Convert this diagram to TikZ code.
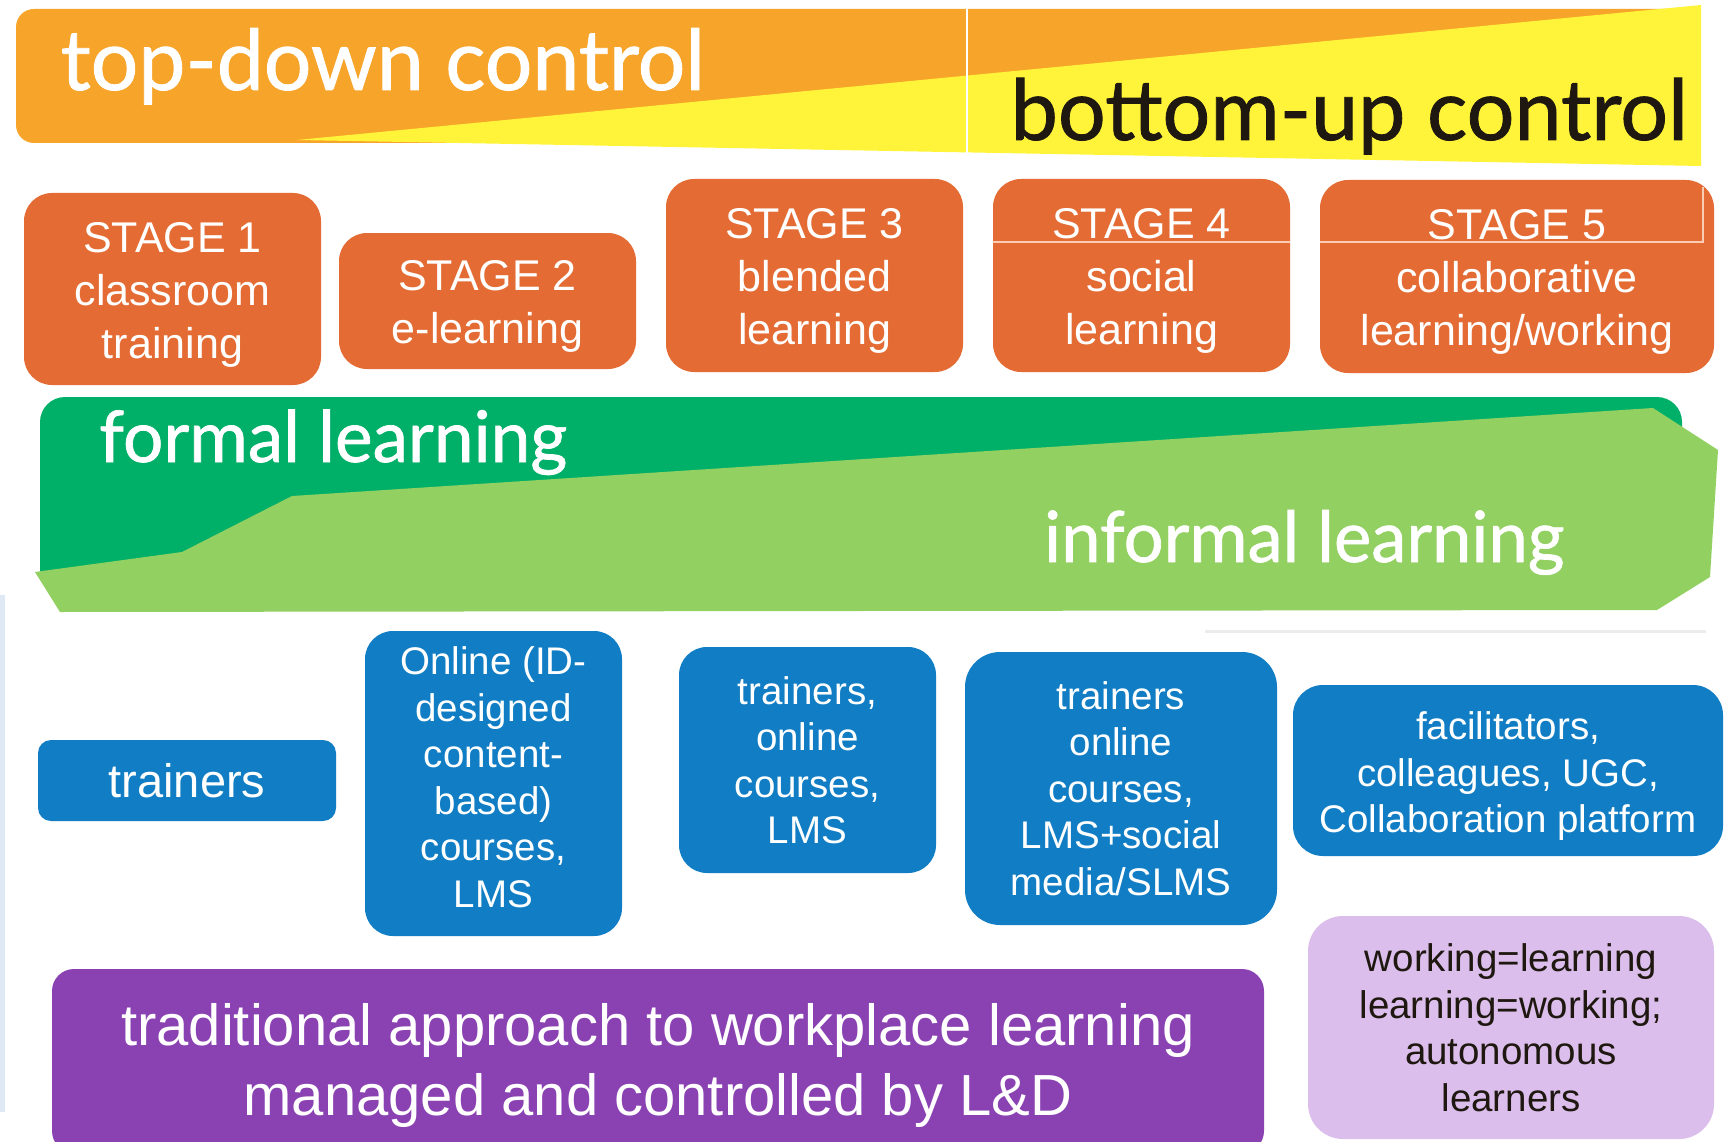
\documentclass[tikz,border=0pt]{standalone}
\usepackage{graphicx}
\usepackage{fontspec}
\setmainfont{Liberation Sans}
\newfontfamily\gill{Lato}[FakeBold=1]
\newcommand\tophgt[1]{\rule{0pt}{#1}}
\newcommand\botdep[1]{\rule[-#1]{0pt}{#1}}
\definecolor{bandorange}{RGB}{247,164,42}
\definecolor{bandyellow}{RGB}{255,244,58}
\definecolor{stageorange}{RGB}{228,108,52}
\definecolor{stageline}{RGB}{250,205,180}
\definecolor{darkgreen}{RGB}{0,176,104}
\definecolor{lightgreen}{RGB}{146,208,98}
\definecolor{boxblue}{RGB}{16,125,196}
\definecolor{boxpurple}{RGB}{138,66,178}
\definecolor{boxlavender}{RGB}{220,190,236}
\definecolor{titledark}{RGB}{30,24,16}
\definecolor{edgeblue}{RGB}{222,233,245}
\definecolor{seamgray}{RGB}{236,236,236}
\begin{document}
\begin{tikzpicture}[x=1pt,y=-1pt,
  title/.style={anchor=base west, inner sep=0pt},
  stagebox/.style={fill=stageorange, rounded corners=28pt, text=white, align=center,
    inner sep=0pt, minimum width=297pt, font=\fontsize{43}{53}\selectfont},
  bluebox/.style={fill=boxblue, text=white, align=center, inner sep=0pt,
    font=\fontsize{38.5}{46.5}\selectfont},
  innerline/.style={draw=stageline, line width=2.5pt}]
\useasboundingbox (0,0) rectangle (1726,1142);
\clip (0,0) rectangle (1726,1142);
\fill[white] (0,0) rectangle (1726,1142);
\fill[edgeblue] (0,595) rectangle (5,1112);

% top control band
\fill[bandorange, rounded corners=18pt] (16,9) rectangle (1690,143);
\fill[bandyellow] (297,140) -- (1701,5) -- (1701,166) -- cycle;
\draw[white, line width=1.5pt] (967,0) -- (967,168);
\node[title, text=white] (td) at (60.5,90) {\resizebox{644pt}{!}{\gill top-down control}};
\node[title, text=titledark] (bu) at (1010.5,140) {\resizebox{677pt}{!}{\gill bottom-up control}};

% stages
\node[stagebox, minimum height=192pt] (s1) at (172.5,289) {\tophgt{41pt}STAGE 1\\classroom\\training};
\node[stagebox, minimum height=136pt] (s2) at (487.5,301) {\tophgt{40pt}STAGE 2\\e-learning};
\node[stagebox, minimum height=193pt] (s3) at (814.5,275.5) {\tophgt{41pt}STAGE 3\\blended\\learning};
\node[stagebox, minimum height=193pt] (s4) at (1141.5,275.5) {\tophgt{41pt}STAGE 4\\social\\learning};
\node[stagebox, minimum height=193pt, minimum width=394pt] (s5) at (1517,276.5) {\tophgt{41pt}STAGE 5\\collaborative\\learning/working};
\coordinate (ly) at (0,242);
\coordinate (c5) at (1703,242);
\coordinate (c5t) at (1703,187);
\draw[innerline] (s4.west |- ly) -- (s4.east |- ly);
\draw[innerline] (s5.west |- ly) -- (c5) -- (c5t);

% formal / informal band
\fill[darkgreen] (40,572) [rounded corners=25pt] -- (40,397) -- (1682,397) -- (1682,572) [sharp corners] -- cycle;
\fill[lightgreen] (35,572) -- (182,552) -- (292,496) -- (1653,408) -- (1718,450) -- (1710,577) -- (1657,610) -- (60,612) -- cycle;
\node[title, text=white] (fl) at (99,462) {\resizebox{468pt}{!}{\gill formal learning}};
\node[title, text=white] (il) at (1044,562) {\resizebox{520pt}{!}{\gill informal learning}};

\draw[seamgray, line width=3pt] (1205,631) -- (1706,631);

% resources
\node[bluebox, rounded corners=13pt, minimum width=298pt, minimum height=81pt,
  font=\fontsize{47}{56}\selectfont] (b1) at (187,780.5) {trainers};
\node[bluebox, rounded corners=28pt, minimum width=257pt, minimum height=305pt] (b2) at (493.5,783.5)
  {Online (ID-\\designed\\content-\\based)\\courses,\\LMS\botdep{13pt}};
\node[bluebox, rounded corners=28pt, minimum width=257pt, minimum height=226pt] (b3) at (807.5,760)
  {trainers,\\online\\courses,\\LMS};
\node[bluebox, rounded corners=35pt, minimum width=312pt, minimum height=273pt] (b4) at (1121,788.5)
  {trainers\\online\\courses,\\LMS+social\\media/SLMS};
\node[bluebox, rounded corners=30pt, minimum width=430pt, minimum height=171pt] (b5) at (1508,770.5)
  {\tophgt{39pt}facilitators,\\colleagues, UGC,\\Collaboration platform};

% bottom row
\node[fill=boxpurple, text=white, align=center, inner sep=0pt, rounded corners=22pt,
  minimum width=1212pt, minimum height=184pt, font=\fontsize{58}{70}\selectfont] (trad) at (658,1061)
  {\tophgt{51pt}traditional approach to workplace learning\\managed and controlled by L\&D};
\node[fill=boxlavender, text=titledark, align=center, inner sep=0pt, rounded corners=35pt,
  minimum width=406pt, minimum height=223pt, font=\fontsize{38.5}{46.5}\selectfont] (auto) at (1511,1027.5)
  {working=learning\\learning=working;\\autonomous\\learners};
\end{tikzpicture}
\end{document}
